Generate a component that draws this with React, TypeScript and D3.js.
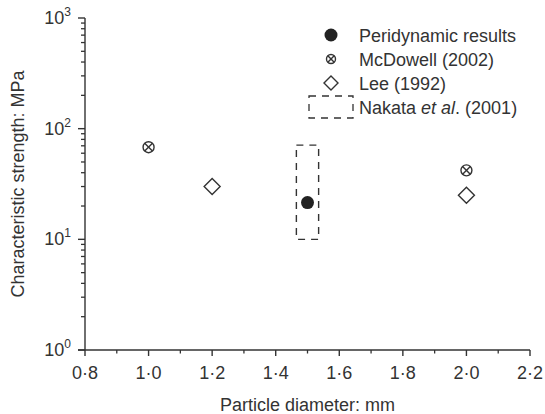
import React from "react";
import * as d3 from "d3";

const peridynamicX = [1.5];
const peridynamicY = [21.5];
const mcdowellX = [1.0, 2.0];
const mcdowellY = [68, 42];
const leeX = [1.2, 2.0];
const leeY = [30, 25];
const nakataX = [1.465, 1.535];
const nakataY = [10, 71];
const xTicks = [0.8, 1.0, 1.2, 1.4, 1.6, 1.8, 2.0, 2.2];
const xMinorTicks = [0.9, 1.1, 1.3, 1.5, 1.7, 1.9, 2.1];
const yDecades = [1, 10, 100, 1000];
const yExponents = ["0", "1", "2", "3"];
const legendLabels = ["Peridynamic results", "McDowell (2002)", "Lee (1992)", "Nakata"];

const W = 545, H = 414;
const M = { left: 85, right: 15, top: 18, bottom: 64 };
const C = "#333";
const FONT = "Liberation Sans, Arial, Helvetica, sans-serif";
const FS = 18;

export default function App() {
  const x = d3.scaleLinear().domain([0.8, 2.2]).range([M.left, W - M.right]);
  const y = d3.scaleLog().domain([1, 1000]).range([H - M.bottom, M.top]);
  const y0 = y(1);
  const minorY: number[] = [];
  for (let d = 1; d < 1000; d *= 10) for (let k = 2; k <= 9; k++) minorY.push(d * k);

  const diamond = (cx: number, cy: number, r: number) =>
    `M${cx},${cy - r}L${cx + r},${cy}L${cx},${cy + r}L${cx - r},${cy}Z`;
  const cross = (cx: number, cy: number, r: number, key: string) => (
    <g key={key} stroke={C} strokeWidth={1.4} fill="white">
      <circle cx={cx} cy={cy} r={r} />
      <line x1={cx - r * 0.7} y1={cy - r * 0.7} x2={cx + r * 0.7} y2={cy + r * 0.7} />
      <line x1={cx - r * 0.7} y1={cy + r * 0.7} x2={cx + r * 0.7} y2={cy - r * 0.7} />
    </g>
  );

  const lx = 331, ltx = 359, ly0 = 35, ldy = 24;

  return (
    <svg width={W} height={H} style={{ position: "absolute", left: 0, top: 0, background: "white" }} fontFamily={FONT}>
      <rect x={0} y={0} width={W} height={H} fill="white" />
      {/* axes */}
      <line x1={M.left} y1={M.top} x2={M.left} y2={y0} stroke={C} strokeWidth={1.4} />
      <line x1={M.left - 7} y1={y0} x2={W - M.right} y2={y0} stroke={C} strokeWidth={1.4} />
      {yDecades.map((v, i) => (
        <g key={"yd" + i}>
          <line x1={M.left - 7} x2={M.left} y1={y(v)} y2={y(v)} stroke={C} strokeWidth={1.4} />
          <text x={M.left - 14} y={y(v) + 6} textAnchor="end" fontSize={FS} fill={C}>
            10<tspan dy={-8} fontSize={12}>{yExponents[i]}</tspan>
          </text>
        </g>
      ))}
      {minorY.map((v, i) => (
        <line key={"ym" + i} x1={M.left - 4} x2={M.left} y1={y(v)} y2={y(v)} stroke={C} strokeWidth={1.3} />
      ))}
      {xTicks.map((v, i) => (
        <g key={"xt" + i}>
          <line x1={x(v)} x2={x(v)} y1={y0} y2={y0 + 6} stroke={C} strokeWidth={1.4} />
          <text x={x(v)} y={y0 + 29} textAnchor="middle" fontSize={FS} fill={C}>
            {v.toFixed(1).replace(".", "·")}
          </text>
        </g>
      ))}
      {xMinorTicks.map((v, i) => (
        <line key={"xm" + i} x1={x(v)} x2={x(v)} y1={y0} y2={y0 + 3.5} stroke={C} strokeWidth={1.3} />
      ))}
      <text x={(M.left + W - M.right) / 2} y={y0 + 61} textAnchor="middle" fontSize={FS} fill={C}>
        Particle diameter: mm
      </text>
      <text transform={`translate(24,${(M.top + y0) / 2}) rotate(-90)`} textAnchor="middle" fontSize={FS} fill={C}>
        Characteristic strength: MPa
      </text>

      {/* Nakata box */}
      <rect x={x(nakataX[0])} y={y(nakataY[1])} width={x(nakataX[1]) - x(nakataX[0])}
        height={y(nakataY[0]) - y(nakataY[1])} fill="none" stroke={C} strokeWidth={1.4} strokeDasharray="7,6" />
      {/* data */}
      {peridynamicX.map((v, i) => (
        <circle key={"p" + i} cx={x(v)} cy={y(peridynamicY[i])} r={6.5} fill="#222" />
      ))}
      {mcdowellX.map((v, i) => cross(x(v), y(mcdowellY[i]), 5.5, "m" + i))}
      {leeX.map((v, i) => (
        <path key={"l" + i} d={diamond(x(v), y(leeY[i]), 8)} fill="white" stroke={C} strokeWidth={1.4} />
      ))}

      {/* legend */}
      <circle cx={lx} cy={ly0} r={6.5} fill="#222" />
      {cross(lx, ly0 + ldy, 4.5, "lg1")}
      <path d={diamond(lx, ly0 + 2 * ldy, 7)} fill="white" stroke={C} strokeWidth={1.4} />
      <rect x={309} y={ly0 + 3 * ldy - 11} width={44} height={22} fill="none" stroke={C} strokeWidth={1.3} strokeDasharray="7,6" />
      {legendLabels.map((t, i) => (
        <text key={"lt" + i} x={ltx} y={ly0 + i * ldy + 6.5} fontSize={FS} fill={C}>
          {i === 3 ? (
            <>
              {t} <tspan fontStyle="italic">et al</tspan>. (2001)
            </>
          ) : t}
        </text>
      ))}
    </svg>
  );
}
